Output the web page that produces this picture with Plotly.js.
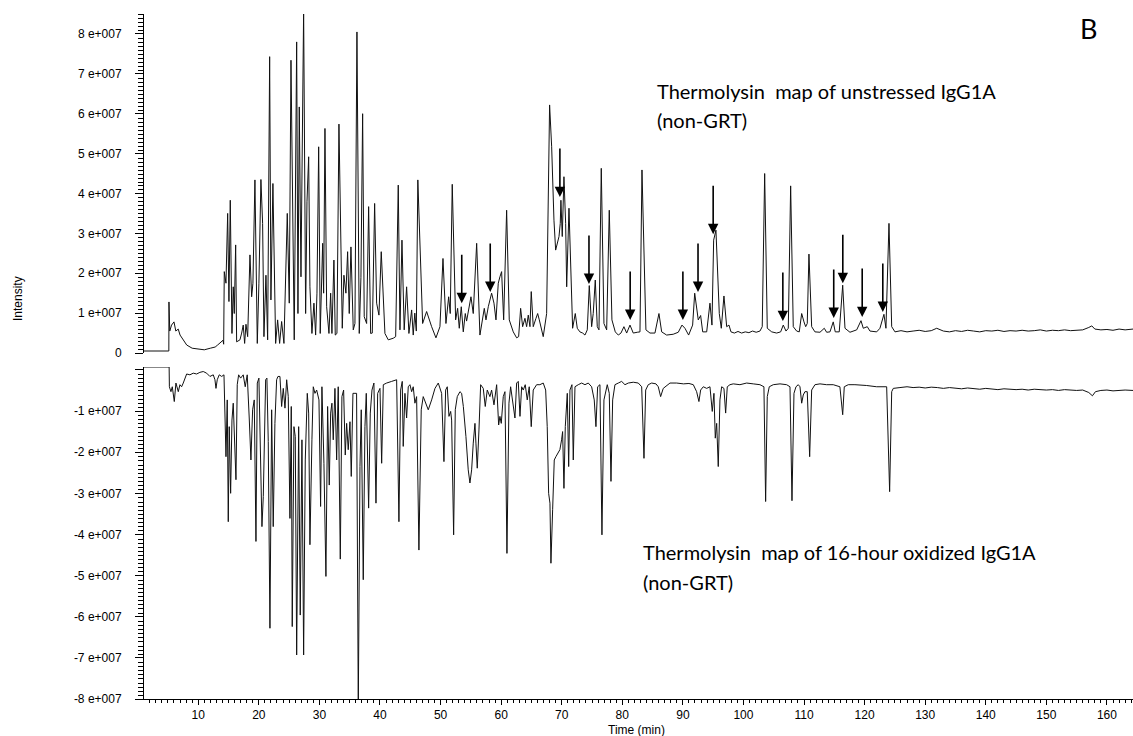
<!DOCTYPE html>
<html>
<head>
<meta charset="utf-8">
<script src="https://cdn.plot.ly/plotly-3.0.1.min.js"></script>
<style>html,body{margin:0;padding:0;background:#fff;}#chart{width:1133px;height:736px;}</style>
</head>
<body>
<div id="chart"></div>
<script>
// Intensity values are in units of 1e7 counts
const INTENSITY_UNIT = 1e7;

// Upper trace: unstressed IgG1A  [time (min), intensity (x1e7)]
const unstressedTrace = [
[1.05,0.05],[5.15,0.05],[5.17,1.28],[5.3,0.55],[5.6,0.7],[6.0,0.78],[6.3,0.55],[6.7,0.6],[7.0,0.45],[7.5,0.35],[8.1,0.2],[9.0,0.12],[10.0,0.1],[11.0,0.08],[12.0,0.12],[12.8,0.15],[13.2,0.2],[13.6,0.25],[14.1,0.32],[14.2,0.22],
[14.3,2.04],[14.58,1.75],[14.86,3.5],[15.07,1.29],[15.29,3.83],[15.57,0.49],[15.78,1.66],[15.95,0.99],[16.18,2.71],[16.34,0.28],[16.89,0.33],[17.17,0.5],[17.43,0.7],[17.66,0.24],[17.88,0.72],[18.16,0.41],[18.54,2.46],[18.82,1.41],[19.03,1.75],[19.36,4.34],[19.75,0.24],[20.02,1.75],[20.35,4.35],[20.63,3.25],[20.85,0.41],[21.18,1.95],[21.46,0.33],[21.79,7.43],[22.0,1.33],[22.33,4.25],[22.78,0.24],[23.11,0.83],[23.44,0.24],[23.77,0.79],[24.15,0.24],[24.7,3.5],[25.03,1.25],[25.31,7.34],[25.52,4.17],[25.85,0.33],[26.25,7.8],[26.46,0.99],[26.68,6.17],[26.96,1.91],[27.4,8.6],[27.73,0.99],[27.95,3.79],[28.23,4.92],[28.44,1.66],[28.77,0.49],[29.1,1.25],[29.38,0.45],[29.6,1.5],[29.88,5.17],[30.14,0.49],[30.54,2.75],[30.7,1.5],[30.92,5.63],[31.2,1.16],[31.58,0.49],[31.86,1.5],[32.07,0.49],[32.4,2.33],[32.62,0.45],[32.9,0.49],[33.23,5.74],[33.78,0.62],[34.05,1.95],[34.38,1.5],[34.66,2.54],[34.93,0.99],[35.21,2.66],[35.59,0.58],[35.87,0.74],[36.2,8.05],[36.58,0.49],[36.86,1.9],[37.14,6.0],[37.4,0.91],[37.8,0.74],[38.13,3.67],[38.46,0.49],[38.73,0.5],[39.12,3.75],[39.45,1.25],[39.83,0.95],[40.21,2.54],[40.82,0.49],[41.37,0.33],[42.19,0.37],[42.59,0.41],[43.02,4.21],[43.3,0.58],[43.63,2.83],[44.0,0.58],[44.4,1.66],[44.78,0.49],[45.23,1.08],[45.49,0.45],[45.75,1.0],[46.0,0.55],
[46.25,4.34],[47.04,0.74],[47.7,1.04],[48.53,0.66],[49.24,0.38],[49.9,0.66],[50.4,2.37],[50.89,0.74],[51.34,1.41],[51.6,0.99],[51.93,4.23],[52.49,0.83],[52.82,1.12],[53.09,0.62],[53.42,1.16],[53.75,0.53],[54.08,0.99],[54.3,0.8],[54.52,0.99],[55.02,1.41],[55.4,0.99],[55.96,2.75],[56.5,0.45],[57.22,1.12],[57.5,0.83],[57.88,1.16],[58.43,1.5],[58.82,1.25],[59.15,0.83],[59.53,1.75],[59.8,1.91],[60.08,2.04],[60.42,0.83],[60.91,3.58],[61.34,0.83],[62.0,0.53],[62.56,0.38],[62.89,0.41],[63.22,1.12],[63.55,0.66],[63.93,0.87],[64.21,0.66],[64.48,0.95],[64.76,0.66],[64.97,1.54],[65.3,0.66],[65.75,0.87],[66.03,0.99],[66.3,0.83],[66.95,0.41],[67.51,0.99],[67.78,4.09],[68.0,6.22],[68.34,5.17],[68.72,3.33],[69.0,2.58],[69.26,2.75],[69.55,2.92],[69.76,3.25],[69.87,3.83],[70.09,2.92],[70.37,4.42],[70.65,3.25],[70.82,1.66],[71.2,3.63],[71.58,1.66],[71.8,0.62],[72.24,0.99],[72.57,0.62],[73.0,0.53],[73.46,0.5],[73.84,0.45],[74.22,0.58],[74.55,1.69],[74.94,0.66],[75.2,0.99],[75.54,1.83],[75.87,0.66],[76.15,0.58],[76.53,4.63],[76.97,0.74],[77.42,0.58],[77.85,3.58],[78.29,0.83],[78.84,0.53],[79.34,0.45],[79.78,0.5],[80.27,0.66],[80.72,0.5],[81.27,0.7],[81.81,0.5],[82.47,0.52],[82.92,0.53],[83.25,4.59],[83.9,0.58],[84.57,0.5],[85.39,0.5],[86.05,0.99],[86.5,0.53],[87.32,0.45],[88.4,0.47],[89.24,0.52],[89.85,0.7],[90.34,0.62],[90.95,0.45],[91.61,0.7],[91.95,1.5],[92.54,0.83],[92.93,0.94],[93.27,0.53],[93.93,0.53],[94.47,1.25],[94.8,0.7],[95.08,2.83],[95.25,2.92],[95.46,3.08],[96.01,0.99],[96.34,0.62],[96.78,1.43],[97.23,0.66],[97.61,0.7],[97.94,0.53],
[98.5,0.5],[99.1,0.54],[99.7,0.5],[100.3,0.53],[100.9,0.51],[101.5,0.55],[102.1,0.52],[102.72,0.55],[103.1,0.66],[103.5,4.5],[103.93,0.62],[104.66,0.53],[105.48,0.5],[106.14,0.53],[106.57,0.7],[107.02,0.55],[107.4,0.62],[107.79,4.19],[108.22,0.66],[108.78,0.55],[109.21,0.53],[109.61,0.99],[109.99,0.78],[110.27,0.66],[110.53,0.74],[110.81,2.48],[111.26,0.66],[111.8,0.53],[112.63,0.52],[113.34,0.62],[113.73,0.52],[114.28,0.53],[114.82,0.78],[115.15,0.53],[115.81,0.53],[116.38,1.7],[116.76,0.62],[117.58,0.52],[118.69,0.58],[119.4,0.81],[119.78,0.62],[120.44,0.66],[120.88,0.55],[121.99,0.53],[122.53,0.62],[123.19,0.97],[123.52,0.62],[124.02,3.25],[124.47,0.66],[125.01,0.53],
[126,0.56],[127,0.53],[128,0.55],[129,0.57],[130,0.54],[131,0.56],[131.9,0.62],[133,0.55],[134,0.53],[135,0.56],[136,0.54],[137,0.57],[138,0.55],[139,0.53],[140,0.56],[141,0.55],[142,0.57],[143,0.54],[144,0.56],[145,0.55],[146,0.57],[147,0.55],[148,0.56],[149,0.58],[150,0.55],[151,0.57],[152,0.56],[153,0.58],[154,0.56],[155,0.57],[156,0.58],[157,0.64],[157.5,0.68],[158,0.6],[159,0.58],[160,0.59],[161,0.57],[162,0.6],[163,0.58],[164.3,0.6]
];

// Lower (mirrored) trace: 16-hour oxidized IgG1A  [time (min), intensity (x1e7)]
const oxidizedTrace = [
[1.05,0.07],[5.2,0.07],[5.24,-0.41],[5.5,-0.53],[5.72,-0.41],[5.88,-0.65],[6.05,-0.77],[6.32,-0.32],[6.54,-0.45],[6.71,-0.53],[6.98,-0.36],[7.26,-0.41],[7.53,-0.32],[8.09,-0.1],[8.63,-0.12],[9.18,-0.08],[9.74,-0.1],[10.28,-0.06],[10.83,-0.04],[11.39,-0.08],[11.93,-0.16],[12.48,-0.12],[12.76,-0.24],[12.93,-0.45],[13.14,-0.24],[13.47,-0.12],[13.87,-0.16],[14.25,-0.12],
[14.58,-2.11],[14.79,-0.73],[14.96,-3.69],[15.12,-1.38],[15.35,-3.0],[15.57,-1.22],[15.78,-0.81],[16.01,-1.7],[16.23,-2.67],[16.44,-0.36],[16.67,-0.12],[17.0,-0.2],[17.22,-0.14],[17.43,-0.12],[17.76,-0.41],[18.09,-0.12],[18.42,-1.17],[18.7,-2.19],[18.98,-0.97],[19.25,-0.73],[19.53,-4.17],[19.75,-0.32],[20.02,-0.2],[20.3,-2.23],[20.52,-3.81],[20.74,-3.08],[20.9,-2.03],[21.13,-0.24],[21.34,-0.2],[21.56,-1.74],[21.84,-6.28],[22.12,-0.97],[22.38,-3.81],[22.66,-1.3],[22.94,-0.24],[23.16,-0.16],[23.49,-0.16],[23.77,-0.89],[24.04,-0.45],[24.32,-0.93],[24.6,-0.24],[24.86,-0.65],[25.14,-3.61],[25.36,-0.89],[25.52,-6.24],[25.8,-1.38],[26.02,-1.62],[26.25,-6.93],[26.58,-1.38],[26.84,-5.96],[27.12,-1.7],[27.4,-6.93],[27.67,-2.19],[28.0,-0.57],[28.23,-1.05],[28.44,-4.25],[28.77,-1.7],[28.99,-0.41],[29.27,-0.57],[29.55,-0.49],[29.93,-0.73],[30.2,-3.32],[30.42,-0.41],[30.75,-2.27],[31.08,-5.02],[31.36,-0.89],[31.63,-2.8],[31.86,-1.05],[32.07,-0.81],[32.29,-1.7],[32.57,-0.45],[32.85,-2.19],[33.11,-0.41],[33.45,-4.6],[33.72,-0.65],[34.0,-0.49],[34.27,-2.07],[34.5,-1.3],[34.76,-1.94],[35.05,-1.26],[35.26,-2.59],[35.54,-0.57],[35.87,-0.57],[36.14,-0.57],[36.42,-8.2],[36.7,-2.35],[36.91,-0.97],[37.24,-5.1],[37.52,-1.38],[37.74,-0.57],[38.13,-3.36],[38.4,-1.05],[38.68,-0.49],[39.0,-0.32],[39.34,-3.24],[39.62,-0.57],[40.0,-0.45],[40.28,-2.27],[40.55,-0.36],[41.1,-0.32],[41.93,-0.28],[42.75,-0.24],[43.13,-3.69],[43.41,-0.49],[43.68,-0.28],[43.84,-1.86],[44.12,-0.57],[44.4,-1.17],[44.67,-0.41],[44.95,-0.36],[45.23,-0.53],[45.49,-0.41],[45.77,-0.81],[46.05,-0.65],[46.43,-4.38],[46.81,-0.97],[47.14,-0.65],[47.7,-0.89],[47.97,-0.97],[48.53,-0.73],[49.08,-0.45],[49.62,-0.32],[50.18,-0.57],[50.56,-2.23],[50.84,-0.49],[51.11,-0.41],[51.39,-1.13],[51.67,-1.01],[51.83,-1.22],[52.16,-4.01],[52.43,-0.97],[52.76,-0.65],[53.2,-0.53],[53.48,-0.57],[53.76,-0.89],[54.19,-1.62],[54.57,-2.43],[54.85,-2.75],[55.13,-2.43],[55.4,-1.78],[55.68,-1.3],[55.84,-1.78],[56.06,-2.39],[56.34,-1.46],[56.62,-0.36],[57.05,-0.45],[57.38,-0.89],[57.71,-0.49],[58.15,-0.65],[58.43,-0.49],[58.82,-0.85],[59.26,-0.36],[59.59,-1.34],[59.8,-1.13],[60.02,-1.3],[60.35,-0.65],[60.63,-0.53],[60.96,-4.46],[61.29,-0.81],[61.57,-0.41],[61.9,-0.73],[62.28,-1.17],[62.56,-0.32],[62.83,-0.28],[63.11,-1.13],[63.39,-0.41],[63.65,-0.49],[63.98,-0.36],[64.31,-0.73],[64.64,-0.41],[64.97,-1.38],[65.3,-0.49],[65.86,-0.36],[66.4,-0.36],[66.95,-0.32],[67.35,-0.49],[67.61,-1.38],[67.84,-3.0],[68.06,-3.24],[68.22,-4.7],[68.5,-3.4],[68.77,-2.19],[69.04,-2.11],[69.32,-2.03],[69.7,-1.94],[69.98,-1.7],[70.15,-1.5],[70.37,-2.88],[70.59,-1.38],[70.92,-0.57],[71.15,-2.35],[71.36,-0.49],[71.69,-0.36],[71.91,-2.19],[72.19,-0.41],[72.73,-0.36],[73.29,-0.32],[73.84,-0.36],[74.38,-0.32],[74.94,-0.41],[75.37,-0.73],[75.65,-1.38],[75.93,-0.41],[76.31,-0.36],[76.64,-4.01],[76.97,-0.73],[77.52,-0.36],[77.85,-0.57],[78.13,-2.71],[78.41,-0.73],[78.79,-0.36],[79.34,-0.32],[79.89,-0.28],[80.44,-0.36],[80.99,-0.32],[81.81,-0.3],[82.64,-0.32],[83.2,-0.41],[83.58,-2.15],[83.86,-0.49],[84.29,-0.36],[84.85,-0.32],[85.56,-0.34],[85.94,-0.41],[86.33,-0.65],[86.76,-0.45],[87.87,-0.32],[88.97,-0.32],[90.1,-0.34],[91.0,-0.33],[91.72,-0.36],[92.27,-0.53],[92.65,-0.77],[92.93,-0.49],[93.37,-0.41],[93.93,-0.45],[94.47,-0.41],[94.85,-1.01],[95.13,-0.57],[95.35,-1.66],[95.58,-1.3],[95.84,-2.35],[96.12,-0.73],[96.4,-0.41],[96.78,-0.45],[97.06,-1.05],[97.33,-0.41],[97.77,-0.36],[98.32,-0.34],[99.42,-0.36],[100.53,-0.32],[101.62,-0.34],[102.72,-0.36],[103.38,-0.41],[103.66,-3.2],[103.93,-0.65],[104.26,-0.41],[104.92,-0.36],[106.03,-0.34],[107.13,-0.36],[107.68,-0.41],[108.01,-3.18],[108.34,-0.57],[108.67,-0.41],[109.05,-0.36],[109.33,-0.41],[109.61,-0.81],[109.87,-0.61],[110.15,-0.53],[110.53,-0.53],[110.93,-2.11],[111.26,-0.49],[111.8,-0.36],[112.63,-0.34],[113.73,-0.36],[114.82,-0.36],[115.92,-0.41],[116.38,-1.09],[116.64,-0.41],[117.3,-0.36],[118.4,-0.36],[120.34,-0.38],[121.99,-0.41],[123.64,-0.41],[124.13,-2.96],[124.47,-0.53],[124.73,-0.45],[125.83,-0.43],
[127,-0.41],[128,-0.43],[129,-0.42],[130,-0.44],[131,-0.42],[132,-0.43],[133,-0.45],[134,-0.43],[135,-0.44],[136,-0.46],[137,-0.44],[138,-0.45],[139,-0.47],[140,-0.45],[141,-0.46],[142,-0.48],[143,-0.46],[144,-0.47],[145,-0.48],[146,-0.47],[147,-0.49],[148,-0.47],[149,-0.48],[150,-0.49],[151,-0.48],[152,-0.5],[153,-0.48],[154,-0.49],[155,-0.5],[156,-0.49],[157,-0.55],[157.6,-0.63],[158.1,-0.53],[159,-0.5],[160,-0.49],[161,-0.51],[162,-0.5],[163,-0.49],[164.3,-0.5]
];

// Arrows marking peaks in the upper trace: tip time (min) and tip intensity (x1e7)
const arrowTimes = [53.5, 58.2, 69.7, 74.5, 81.3, 90.0, 92.5, 95.0, 106.5, 114.9, 116.4, 119.6, 123.0];
const arrowTips  = [1.25, 1.53, 3.91, 1.73, 0.83, 0.83, 1.53, 2.98, 0.80, 0.88, 1.75, 0.90, 1.03];

// Axis tick labels (value in units of 1e7 -> label)
const topTickVals = [0,1,2,3,4,5,6,7,8];
const topTickText = ['0','1 e+007','2 e+007','3 e+007','4 e+007','5 e+007','6 e+007','7 e+007','8 e+007'];
const bottomTickVals = [0,-1,-2,-3,-4,-5,-6,-7,-8];
const bottomTickText = [' ','-1 e+007','-2 e+007','-3 e+007','-4 e+007','-5 e+007','-6 e+007','-7 e+007','-8 e+007'];

const labels = {
  top: ['Thermolysin\u00a0 map of unstressed IgG1A', '(non-GRT)'],
  bottom: ['Thermolysin\u00a0 map of 16-hour oxidized IgG1A', '(non-GRT)'],
  panel: 'B', yTitle: 'Intensity', xTitle: 'Time (min)'
};

const U = INTENSITY_UNIT;
const TOP_RANGE = [0, 8.5 * U];
const BOTTOM_RANGE = [-8 * U, 0.07 * U];
const lineStyle = {color: '#111', width: 1};
const traces = [
  {x: unstressedTrace.map(p => p[0]), y: unstressedTrace.map(p => p[1] * U), type: 'scatter', mode: 'lines', line: lineStyle, xaxis: 'x', yaxis: 'y', hoverinfo: 'skip'},
  {x: oxidizedTrace.map(p => p[0]), y: oxidizedTrace.map(p => p[1] * U), type: 'scatter', mode: 'lines', line: lineStyle, xaxis: 'x', yaxis: 'y2', hoverinfo: 'skip'}
];

// build label aliases for the 'd'-formatted tick text (both hyphen and unicode minus)
function aliasMap(vals, texts) {
  const m = {};
  vals.forEach((v, i) => {
    const s = String(Math.round(v * U));
    m[s] = texts[i];
    if (s.startsWith('-')) m['\u2212' + s.slice(1)] = texts[i];
  });
  return m;
}

const tickFont = {family: 'Liberation Sans, Arial, sans-serif', size: 12, color: '#000'};
const textFont = {family: 'Lato, Calibri, sans-serif', size: 20, color: '#000'};

const H = 736, T = 14, B = 37, L = 144, W = 1133;
const plotH = H - T - B, plotW = W - L;
const py = v => (H - B - v) / plotH;   // pixel row -> paper y
const px = v => (v - L) / plotW;       // pixel column -> paper x
const TOP_DOMAIN = [py(353), 1];
const BOTTOM_DOMAIN = [0, py(367)];

// minor y ticks (every 0.1 e+007) drawn as short axis-side shapes, snapped to whole pixels
const MINOR_LEN = 6;
const shapes = [];
function addMinorTicks(range, domain) {
  const step = 0.1 * U;
  const start = Math.ceil(range[0] / step), end = Math.floor(range[1] / step);
  for (let k = start; k <= end; k++) {
    if (k % 10 === 0) continue;
    const v = k * step;
    const frac = domain[0] + (v - range[0]) / (range[1] - range[0]) * (domain[1] - domain[0]);
    const row = Math.round(H - B - frac * plotH) + 0.5;
    const yp = py(row);
    shapes.push({type: 'line', xref: 'paper', yref: 'paper', x0: -MINOR_LEN / plotW, x1: 0, y0: yp, y1: yp,
      line: {color: '#000', width: 1}, layer: 'above'});
  }
}
addMinorTicks(TOP_RANGE, TOP_DOMAIN);
addMinorTicks(BOTTOM_RANGE, BOTTOM_DOMAIN);

const annotations = [];
arrowTimes.forEach((t, i) => {
  annotations.push({x: t, y: arrowTips[i] * U, xref: 'x', yref: 'y', text: '', showarrow: true,
    ax: 0, ay: -50, arrowhead: 2, arrowsize: 1.3, arrowwidth: 1.6, arrowcolor: '#000', standoff: 0});
});
annotations.push({xref: 'paper', yref: 'paper', x: px(655), y: py(91), xanchor: 'left', yanchor: 'middle', text: labels.top[0], showarrow: false, font: textFont});
annotations.push({xref: 'paper', yref: 'paper', x: px(655), y: py(120), xanchor: 'left', yanchor: 'middle', text: labels.top[1], showarrow: false, font: textFont});
annotations.push({xref: 'paper', yref: 'paper', x: px(641), y: py(552), xanchor: 'left', yanchor: 'middle', text: labels.bottom[0], showarrow: false, font: textFont});
annotations.push({xref: 'paper', yref: 'paper', x: px(641), y: py(582), xanchor: 'left', yanchor: 'middle', text: labels.bottom[1], showarrow: false, font: textFont});
annotations.push({xref: 'paper', yref: 'paper', x: px(1088), y: py(28), xanchor: 'center', yanchor: 'middle', text: labels.panel, showarrow: false, font: {family: 'Lato, Calibri, sans-serif', size: 27, color: '#000'}});
annotations.push({xref: 'paper', yref: 'paper', x: px(18), y: py(299), xanchor: 'center', yanchor: 'middle', text: labels.yTitle, textangle: -90, showarrow: false, font: tickFont});
annotations.push({xref: 'paper', yref: 'paper', x: px(636), y: py(730), xanchor: 'center', yanchor: 'middle', text: labels.xTitle, showarrow: false, font: tickFont});

const yCommon = {
  showline: true, linecolor: '#000', linewidth: 1, ticks: 'outside', ticklen: 8, tickwidth: 1, tickcolor: '#000',
  tickmode: 'linear', tick0: 0, dtick: U, tickformat: 'd', showgrid: false, zeroline: false, tickfont: tickFont,
  ticklabelstandoff: 11, fixedrange: true
};

const layout = {
  width: W, height: H,
  margin: {l: L, r: 0, t: T, b: B, pad: 0},
  paper_bgcolor: '#fff', plot_bgcolor: '#fff', showlegend: false,
  xaxis: {domain: [0, 1], range: [1.05, 164.3], anchor: 'y2', showline: true, linecolor: '#000', linewidth: 1,
    ticks: 'outside', ticklen: 5, tickwidth: 1, tickcolor: '#000', tickmode: 'linear', tick0: 0, dtick: 10,
    showgrid: false, zeroline: false, tickfont: tickFont, fixedrange: true,
    minor: {tickmode: 'linear', tick0: 0, dtick: 1, ticks: 'outside', ticklen: 3, tickwidth: 1, tickcolor: '#000', showgrid: false}},
  yaxis: Object.assign({}, yCommon, {domain: TOP_DOMAIN, range: TOP_RANGE, anchor: 'x',
    labelalias: aliasMap(topTickVals, topTickText)}),
  yaxis2: Object.assign({}, yCommon, {domain: BOTTOM_DOMAIN, range: BOTTOM_RANGE, anchor: 'x',
    labelalias: aliasMap(bottomTickVals, bottomTickText)}),
  shapes: shapes,
  annotations: annotations
};

Plotly.newPlot('chart', traces, layout, {displayModeBar: false, staticPlot: true});
</script>
</body>
</html>
